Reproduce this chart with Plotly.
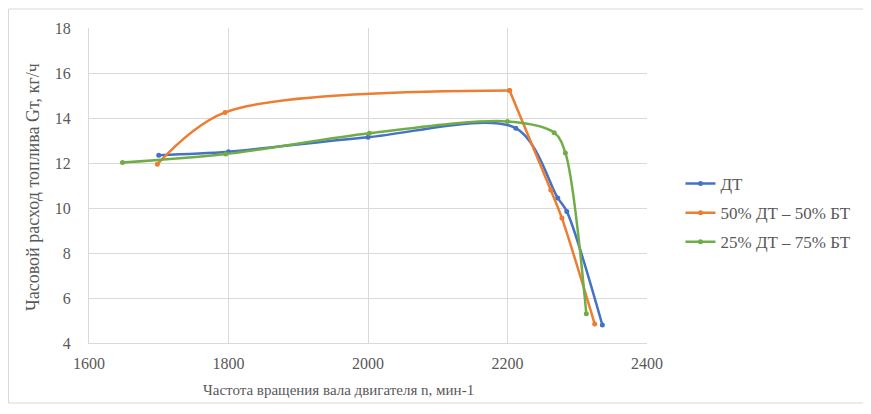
import plotly.graph_objects as go

# Data
dt_x = [1700, 1800, 2000, 2212, 2272, 2285, 2336]
dt_y = [12.35, 12.5, 13.15, 13.55, 10.45, 9.85, 4.8]

mix50_x = [1698, 1795, 2203, 2262, 2278, 2325]
mix50_y = [11.95, 14.25, 15.22, 10.8, 9.55, 4.85]

mix25_x = [1648, 1796, 2002, 2200, 2267, 2283, 2313]
mix25_y = [12.02, 12.4, 13.32, 13.85, 13.35, 12.45, 5.3]

series_names = ["ДТ", "50% ДТ – 50% БТ", "25% ДТ – 75% БТ"]
series_colors = ["#4472C4", "#ED7D31", "#70AD47"]

x_ticks = [1600, 1800, 2000, 2200, 2400]
y_ticks = [4, 6, 8, 10, 12, 14, 16, 18]

x_title = "Частота вращения вала двигателя n, мин-1"
y_title = "Часовой расход топлива Gт, кг/ч"

FONT = "Liberation Serif, Times New Roman, serif"
TXT = "#595959"

# page body has an 8px margin, so the figure is drawn 8px smaller
W, H = 863, 406
ML, MR, MT, MB = 81, 224, 20, 71
PW = W - ML - MR
PH = H - MT - MB


def px_to_paper_x(px):
    return (px - 8 - ML) / PW


def px_to_paper_y(py):
    return (H - MB - (py - 8)) / PH


fig = go.Figure()


def add_series(xs, ys, name, col, show, group):
    fig.add_trace(go.Scatter(
        x=xs, y=ys, name=name, mode="lines+markers", legendgroup=group,
        showlegend=show,
        line=dict(color=col, width=2.5, shape="spline", smoothing=0.9),
        marker=dict(color=col, size=5, symbol="circle"),
    ))


add_series(dt_x, dt_y, series_names[0], series_colors[0], True, "a")
# orange series: smooth up to the peak, then a separate smooth falling branch
add_series(mix50_x[:3], mix50_y[:3], series_names[1], series_colors[1], True, "b")
add_series(mix50_x[2:], mix50_y[2:], series_names[1], series_colors[1], False, "b")
add_series(mix25_x, mix25_y, series_names[2], series_colors[2], True, "c")

fig.update_layout(
    width=W, height=H,
    margin=dict(l=ML, r=MR, t=MT, b=MB),
    paper_bgcolor="white", plot_bgcolor="white",
    font=dict(family=FONT, size=15, color=TXT),
    showlegend=True,
    legend=dict(x=1.06, y=px_to_paper_y(213), xanchor="left", yanchor="middle",
                font=dict(family=FONT, size=17, color=TXT),
                itemwidth=30, tracegroupgap=4, bgcolor="rgba(0,0,0,0)"),
    shapes=[dict(type="rect", xref="paper", yref="paper",
                 x0=px_to_paper_x(8.5), x1=px_to_paper_x(866),
                 y0=px_to_paper_y(403), y1=px_to_paper_y(9),
                 line=dict(color="#d9d9d9", width=1), fillcolor="rgba(0,0,0,0)",
                 layer="below")],
    annotations=[
        dict(text=x_title, xref="paper", yref="paper",
             x=px_to_paper_x(338), y=px_to_paper_y(390),
             xanchor="center", yanchor="middle", showarrow=False,
             font=dict(family=FONT, size=15, color=TXT)),
        dict(text=y_title, xref="paper", yref="paper", textangle=-90,
             x=px_to_paper_x(33), y=px_to_paper_y(187),
             xanchor="center", yanchor="middle", showarrow=False,
             font=dict(family=FONT, size=18, color=TXT)),
    ],
)

fig.update_xaxes(
    range=[1600, 2400], tickvals=x_ticks, ticktext=[str(v) for v in x_ticks],
    showgrid=True, gridcolor="#d9d9d9", gridwidth=1,
    showline=True, linecolor="#d9d9d9", linewidth=1,
    zeroline=False, ticks="", ticklabelstandoff=6,
    tickfont=dict(size=16, color=TXT),
)
fig.update_yaxes(
    range=[4, 18], tickvals=y_ticks, ticktext=[str(v) for v in y_ticks],
    showgrid=True, gridcolor="#d9d9d9", gridwidth=1,
    showline=True, linecolor="#d9d9d9", linewidth=1,
    zeroline=False, ticks="", ticklabelstandoff=14,
    tickfont=dict(size=16, color=TXT),
)

fig.write_html("out.html")
